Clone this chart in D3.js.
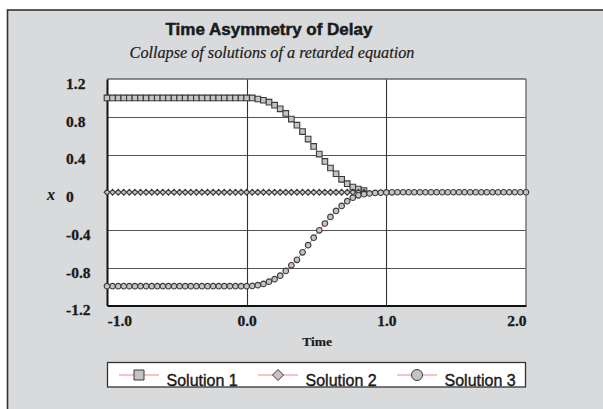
<!DOCTYPE html>
<html><head><meta charset="utf-8">
<script src="https://cdn.jsdelivr.net/npm/d3@7"></script>
<style>html,body{margin:0;padding:0;background:#fff;}svg{display:block;}</style>
</head><body>
<svg id="chart" width="603" height="409"></svg>
<script>
// ---- data ----
const title = "Time Asymmetry of Delay";
const subtitle = "Collapse of solutions of a retarded equation";
const xLabel = "Time";
const yLabel = "x";
const xTickValues = [-1, 0, 1, 2];
const xTickLabels = ["-1.0", "0.0", "1.0", "2.0"];
const yTickValues = [1.2, 0.8, 0.4, 0, -0.4, -0.8, -1.2];
const yTickLabels = ["1.2", "0.8", "0.4", "0", "-0.4", "-0.8", "-1.2"];
const seriesNames = ["Solution 1", "Solution 2", "Solution 3"];

// time samples (step 0.04)
const time1 = [-1.00,-0.96,-0.92,-0.88,-0.84,-0.80,-0.76,-0.72,-0.68,-0.64,-0.60,-0.56,-0.52,-0.48,-0.44,-0.40,-0.36,-0.32,-0.28,-0.24,-0.20,-0.16,-0.12,-0.08,-0.04,0.00,
  0.04,0.08,0.12,0.16,0.20,0.24,0.28,0.32,0.36,0.40,0.44,0.48,0.52,0.56,0.60,0.64,0.68,0.72,0.76,0.80,0.84];
const solution1 = [1,1,1,1,1,1,1,1,1,1,1,1,1,1,1,1,1,1,1,1,1,1,1,1,1,1,
  0.999,0.988,0.975,0.954,0.923,0.884,0.835,0.775,0.711,0.643,0.563,0.486,0.404,0.327,0.257,0.196,0.137,0.091,0.055,0.034,0.018];
const solution2 = [0,0,0,0,0,0,0,0,0,0,0,0,0,0,0,0,0,0,0,0,0,0,0,0,0,0,
  0,0,0,0,0,0,0,0,0,0,0,0,0,0,0,0,0,0,0,0,0];
const time3 = [-1.00,-0.96,-0.92,-0.88,-0.84,-0.80,-0.76,-0.72,-0.68,-0.64,-0.60,-0.56,-0.52,-0.48,-0.44,-0.40,-0.36,-0.32,-0.28,-0.24,-0.20,-0.16,-0.12,-0.08,-0.04,0.00,
  0.04,0.08,0.12,0.16,0.20,0.24,0.28,0.32,0.36,0.40,0.44,0.48,0.52,0.56,0.60,0.64,0.68,0.72,0.76,0.80,0.84,
  0.88,0.92,0.96,1.00,1.04,1.08,1.12,1.16,1.20,1.24,1.28,1.32,1.36,1.40,1.44,1.48,1.52,1.56,1.60,1.64,1.68,1.72,1.76,1.80,1.84,1.88,1.92,1.96,2.00];
const solution3 = [-0.995,-0.995,-0.995,-0.995,-0.995,-0.995,-0.995,-0.995,-0.995,-0.995,-0.995,-0.995,-0.995,-0.995,-0.995,-0.995,-0.995,-0.995,-0.995,-0.995,-0.995,-0.995,-0.995,-0.995,-0.995,-0.995,
  -0.993,-0.985,-0.971,-0.948,-0.921,-0.884,-0.834,-0.774,-0.716,-0.637,-0.561,-0.481,-0.403,-0.331,-0.261,-0.198,-0.145,-0.095,-0.057,-0.033,-0.020,
  -0.012,-0.007,-0.004,-0.002,-0.001,0,0,0,0,0,0,0,0,0,0,0,0,0,0,0,0,0,0,0,0,0,0,0,0];

// ---- drawing ----
const svg = d3.select("#chart");
const W = 603, H = 409;
const plot = {left: 107, right: 526, top: 79, bottom: 305.5};
const serif = "'Liberation Serif','Times New Roman',serif";
const sans = "'Liberation Sans',Arial,sans-serif";
const ink = "#1a1a1a";

// outer frame
svg.append("rect").attr("x", 7.5).attr("y", 10).attr("width", W).attr("height", H)
  .attr("fill", "#d9dadc").attr("stroke", "#333").attr("stroke-width", 1.6);

// titles
svg.append("text").attr("x", 269).attr("y", 35).attr("text-anchor", "middle")
  .attr("font-family", sans).attr("font-weight", "bold").attr("font-size", 17)
  .attr("fill", ink).attr("stroke", ink).attr("stroke-width", 0.5).text(title);
svg.append("text").attr("x", 272).attr("y", 58).attr("text-anchor", "middle")
  .attr("font-family", serif).attr("font-style", "italic").attr("font-size", 16.2)
  .attr("fill", ink).attr("stroke", ink).attr("stroke-width", 0.2).text(subtitle);

const x = d3.scaleLinear().domain([-1, 2]).range([plot.left, plot.right]);
const y = d3.scaleLinear().domain([-1.2, 1.2]).range([plot.bottom, plot.top]);

// plot background
svg.append("rect").attr("x", plot.left).attr("y", plot.top)
  .attr("width", plot.right - plot.left).attr("height", plot.bottom - plot.top)
  .attr("fill", "#fff");

// gridlines
const grid = svg.append("g");
grid.selectAll("line.h").data([0.8, 0.4, 0, -0.4, -0.8]).join("line")
  .attr("x1", plot.left).attr("x2", plot.right)
  .attr("y1", d => Math.round(y(d)) + 0.5).attr("y2", d => Math.round(y(d)) + 0.5)
  .attr("stroke", "#555").attr("stroke-width", 1.1);
grid.selectAll("line.v").data([0, 1]).join("line")
  .attr("x1", d => Math.round(x(d)) + 0.5).attr("x2", d => Math.round(x(d)) + 0.5)
  .attr("y1", plot.top).attr("y2", plot.bottom)
  .attr("stroke", "#333").attr("stroke-width", 1.1);
// plot border
svg.append("line").attr("x1", plot.left).attr("x2", plot.right).attr("y1", plot.top).attr("y2", plot.top)
  .attr("stroke", "#666").attr("stroke-width", 1.3);
svg.append("line").attr("x1", plot.right).attr("x2", plot.right).attr("y1", plot.top).attr("y2", plot.bottom)
  .attr("stroke", "#666").attr("stroke-width", 1.3);

// axes
const yAxis = svg.append("g").attr("transform", `translate(${plot.left},0)`)
  .call(d3.axisLeft(y).tickValues(yTickValues).tickSize(0)
    .tickFormat((d, i) => yTickLabels[i]));
yAxis.select(".domain").attr("stroke", "#111").attr("stroke-width", 2);
yAxis.selectAll(".tick text")
  .attr("x", -41).attr("dy", "0").attr("y", 9.3).attr("text-anchor", "start")
  .attr("font-family", serif).attr("font-weight", "bold").attr("font-size", 15.5)
  .attr("fill", ink).attr("stroke", ink).attr("stroke-width", 0.3);

const xAxis = svg.append("g").attr("transform", `translate(0,${plot.bottom})`)
  .call(d3.axisBottom(x).tickValues(xTickValues).tickSize(0)
    .tickFormat((d, i) => xTickLabels[i]));
xAxis.select(".domain").attr("stroke", "#111").attr("stroke-width", 2);
xAxis.selectAll(".tick text")
  .attr("y", 20).attr("dy", "0")
  .attr("text-anchor", (d, i) => i === 0 ? "start" : (i === xTickValues.length - 1 ? "end" : "middle"))
  .attr("font-family", serif).attr("font-weight", "bold").attr("font-size", 15.5)
  .attr("fill", ink).attr("stroke", ink).attr("stroke-width", 0.3);

svg.append("text").attr("x", 317).attr("y", 346).attr("text-anchor", "middle")
  .attr("font-family", serif).attr("font-weight", "bold").attr("font-size", 13.5)
  .attr("fill", ink).attr("stroke", ink).attr("stroke-width", 0.2).text(xLabel);
svg.append("text").attr("x", 47).attr("y", 200)
  .attr("font-family", serif).attr("font-weight", "bold").attr("font-style", "italic").attr("font-size", 16)
  .attr("fill", ink).attr("stroke", ink).attr("stroke-width", 0.2).text(yLabel);

// series
const lineColor = "#e8606a";
const markFill = "#c4c4c4", markStroke = "#3a3a3a";
const line = d3.line().x(d => x(d[0])).y(d => y(d[1]));
const s1 = time1.map((t, i) => [t, solution1[i]]);
const s2 = time1.map((t, i) => [t, solution2[i]]);
const s3 = time3.map((t, i) => [t, solution3[i]]);

function squarePath(r) { return `M${-r},${-r}H${r}V${r}H${-r}Z`; }
function diamondPath(r) { return `M0,${-r}L${r},0L0,${r}L${-r},0Z`; }
function circlePath(r) { const p = d3.path(); p.arc(0, 0, r, 0, 2 * Math.PI); p.closePath(); return p.toString(); }

const series = [
  {data: s1, path: squarePath(2.8)},
  {data: s2, path: diamondPath(2.9)},
  {data: s3, path: circlePath(2.8)}
];
const sg = svg.append("g");
series.forEach(s => {
  sg.append("path").datum(s.data).attr("d", line).attr("fill", "none")
    .attr("stroke", lineColor).attr("stroke-width", 1);
});
series.forEach(s => {
  sg.append("g").selectAll("path").data(s.data).join("path")
    .attr("transform", d => `translate(${x(d[0])},${y(d[1])})`)
    .attr("d", s.path).attr("fill", markFill).attr("stroke", markStroke).attr("stroke-width", 1.1);
});

// legend
const lg = svg.append("g");
lg.append("rect").attr("x", 107.5).attr("y", 362.5).attr("width", 418).attr("height", 24.5)
  .attr("fill", "#fff").attr("stroke", "#333").attr("stroke-width", 1.3);
const legendX = [119, 258, 397];
const legendPaths = [squarePath(5), diamondPath(5.5), circlePath(5.5)];
seriesNames.forEach((name, i) => {
  const g = lg.append("g").attr("transform", `translate(${legendX[i]},375)`);
  g.append("line").attr("x1", 0).attr("x2", 40).attr("y1", 0).attr("y2", 0)
    .attr("stroke", "#f08a8a").attr("stroke-width", 1.2);
  g.append("path").attr("transform", "translate(20,0)").attr("d", legendPaths[i])
    .attr("fill", markFill).attr("stroke", markStroke).attr("stroke-width", 1);
  g.append("text").attr("x", 47.5).attr("y", 10.5)
    .attr("font-family", sans).attr("font-size", 16).attr("fill", ink)
    .attr("stroke", ink).attr("stroke-width", 0.4).text(name);
});
</script>
</body></html>
